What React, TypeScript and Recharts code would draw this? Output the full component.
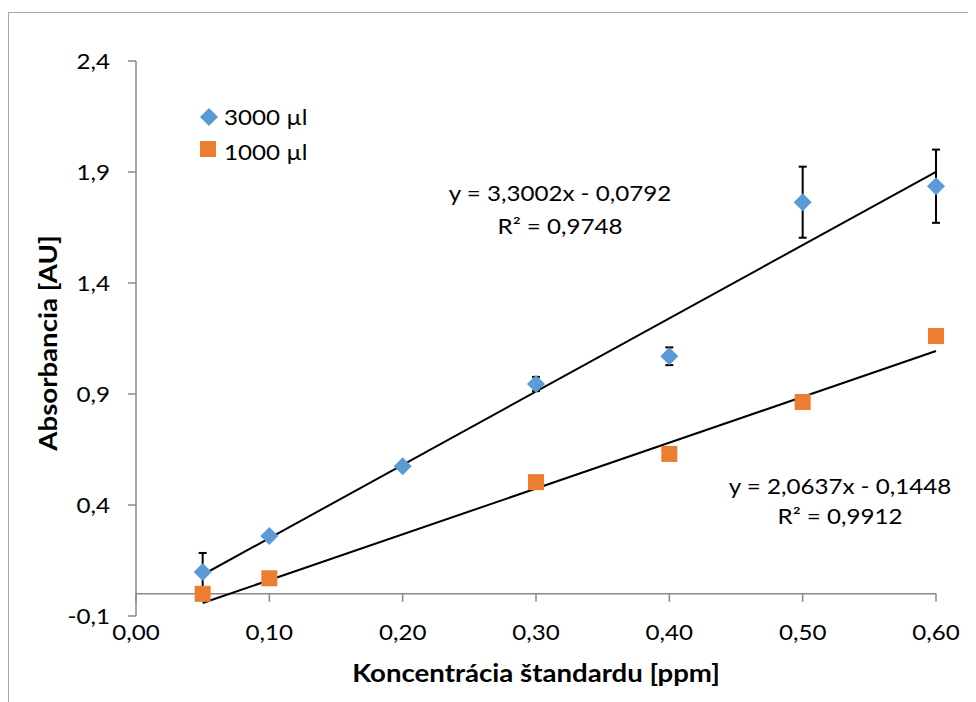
import { ScatterChart, Scatter, XAxis, YAxis, ErrorBar, ReferenceLine } from 'recharts';

// series
const seriesNames = ['3000 µl', '1000 µl'];
const seriesColors = ['#5B9BD5', '#ED7D31'];

const conc3000 = [0.05, 0.1, 0.2, 0.3, 0.4, 0.5, 0.6];
const abs3000 = [0.098, 0.26, 0.575, 0.945, 1.07, 1.764, 1.836];
const err3000 = [0.086, 0.01, 0.01, 0.032, 0.04, 0.16, 0.165];

const conc1000 = [0.05, 0.1, 0.3, 0.4, 0.5, 0.6];
const abs1000 = [0.0, 0.07, 0.503, 0.63, 0.864, 1.161];

// linear trendlines as printed on the chart
const slopes = [3.3002, 2.0637];
const intercepts = [-0.0792, -0.1448];
const rSquared = [0.9748, 0.9912];
const fitRange = [0.05, 0.6];

const xTicks = [0, 0.1, 0.2, 0.3, 0.4, 0.5, 0.6];
const yTicks = [-0.1, 0.4, 0.9, 1.4, 1.9, 2.4];

const AXIS = '#898989';
const FONT = 'Lato, "Open Sans", sans-serif';
const STRETCH = 1.15;

const fmt = (v: number, d: number) => v.toFixed(d).replace('.', ',');

const blueData = conc3000.map((x, i) => ({ x, y: abs3000[i], err: err3000[i] }));
const orangeData = conc1000.map((x, i) => ({ x, y: abs1000[i] }));

function Txt(props: any) {
    const { x, y, anchor = 'middle', bold, size = 21, rotate, children } = props;
    return (
        <text
            transform={`translate(${x},${y})${rotate ? ' rotate(-90)' : ''} scale(${STRETCH},1)`}
            textAnchor={anchor}
            dominantBaseline="central"
            fontFamily={FONT}
            fontSize={size}
            fontWeight={bold ? 700 : 400}
            fill="#000"
        >
            {children}
        </text>
    );
}

const XTick = (p: any) => <Txt x={p.x} y={p.y}>{fmt(p.payload.value, 2)}</Txt>;
const YTick = (p: any) => <Txt x={p.x} y={p.y} anchor="end">{fmt(p.payload.value, 1)}</Txt>;

const Diamond = (p: any) => (
    <polygon
        points={`${p.cx},${p.cy - 9} ${p.cx + 9},${p.cy} ${p.cx},${p.cy + 9} ${p.cx - 9},${p.cy}`}
        fill={seriesColors[0]}
    />
);
const Square = (p: any) => (
    <rect x={p.cx - 8} y={p.cy - 8} width={16} height={16} fill={seriesColors[1]} />
);

const W = 967;
const H = 689;

export default function App() {
    // 8px of tick mark below the zero line, in data units (555px per 2.5)
    const tickLen = 8 * 2.5 / 555;
    return (
        <div style={{ paddingTop: 4 }}>
            <div style={{
                position: 'relative', width: W, height: H,
                borderTop: '1px solid #a6a6a6', borderLeft: '1px solid #a6a6a6'
            }}>
                <ScatterChart width={W} height={H} margin={{ top: 48, right: 40, left: 67, bottom: 56 }}>
                    <XAxis type="number" dataKey="x" domain={[0, 0.6]} ticks={xTicks}
                        axisLine={false} tickLine={false} tickSize={0} tickMargin={16}
                        height={30} tick={<XTick />} />
                    <YAxis type="number" dataKey="y" domain={[-0.1, 2.4]} ticks={yTicks}
                        width={60} tickSize={8} tickMargin={18}
                        axisLine={{ stroke: AXIS, strokeWidth: 1.5 }}
                        tickLine={{ stroke: AXIS, strokeWidth: 1.5 }} tick={<YTick />} />
                    <ReferenceLine y={0} stroke={AXIS} strokeWidth={1.5} />
                    {xTicks.map(t => (
                        <ReferenceLine key={t} segment={[{ x: t, y: 0 }, { x: t, y: -tickLen }]}
                            stroke={AXIS} strokeWidth={1.5} />
                    ))}
                    <Scatter name={seriesNames[0]} data={blueData} shape={<Diamond />} isAnimationActive={false}>
                        <ErrorBar dataKey="err" direction="y" width={4} stroke="#000" strokeWidth={2} />
                    </Scatter>
                    <Scatter name={seriesNames[1]} data={orangeData} shape={<Square />} isAnimationActive={false} />
                    {slopes.map((s, i) => (
                        <ReferenceLine key={'fit' + i}
                            segment={[
                                { x: fitRange[0], y: s * fitRange[0] + intercepts[i] },
                                { x: fitRange[1], y: s * fitRange[1] + intercepts[i] }
                            ]}
                            stroke="#000" strokeWidth={2} />
                    ))}
                </ScatterChart>
                <svg width={W} height={H} style={{ position: 'absolute', left: 0, top: 0, pointerEvents: 'none' }}>
                    {/* legend */}
                    <polygon points="200,95 209,104 200,113 191,104" fill={seriesColors[0]} />
                    <rect x={191} y={128} width={16} height={16} fill={seriesColors[1]} />
                    <Txt x={215} y={104} anchor="start">{seriesNames[0]}</Txt>
                    <Txt x={215} y={139} anchor="start">{seriesNames[1]}</Txt>
                    {/* trendline equations */}
                    <Txt x={551} y={180}>{`y = ${fmt(slopes[0], 4)}x - ${fmt(-intercepts[0], 4)}`}</Txt>
                    <Txt x={551} y={213}>{`R² = ${fmt(rSquared[0], 4)}`}</Txt>
                    <Txt x={831} y={473}>{`y = ${fmt(slopes[1], 4)}x - ${fmt(-intercepts[1], 4)}`}</Txt>
                    <Txt x={831} y={503}>{`R² = ${fmt(rSquared[1], 4)}`}</Txt>
                    {/* axis titles */}
                    <Txt x={527} y={660} bold size={24}>Koncentrácia štandardu [ppm]</Txt>
                    <Txt x={39} y={330} bold size={24} rotate>Absorbancia [AU]</Txt>
                </svg>
            </div>
        </div>
    );
}
